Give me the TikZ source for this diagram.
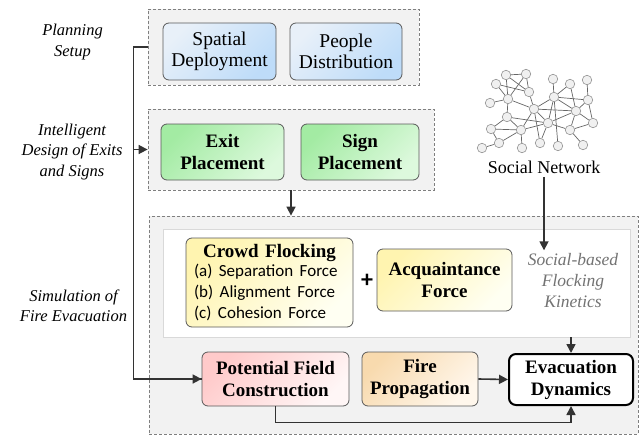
\documentclass[tikz,border=0pt]{standalone}
\usepackage{fontspec}
\setmainfont{Liberation Serif}
\newfontfamily\bodyfont{Carlito}
\usetikzlibrary{arrows.meta}
\definecolor{stagefill}{HTML}{F2F2F2}
\definecolor{stageline}{HTML}{7F7F7F}
\definecolor{blockline}{HTML}{595959}
\definecolor{flowline}{HTML}{333333}
\definecolor{blueA}{HTML}{E8F0F9}
\definecolor{blueB}{HTML}{BEDCF9}
\definecolor{greenA}{HTML}{A3EBA3}
\definecolor{greenB}{HTML}{DDF9DD}
\definecolor{yellowA}{HTML}{FFF4B0}
\definecolor{yellowB}{HTML}{FFFFF2}
\definecolor{pinkA}{HTML}{FFCACA}
\definecolor{pinkB}{HTML}{FFF6F6}
\definecolor{orangeA}{HTML}{F8DAAE}
\definecolor{orangeM}{HTML}{F4C27C}
\definecolor{orangeB}{HTML}{FFF7EC}

\begin{document}
\begin{tikzpicture}[
  x=1pt, y=-1pt,
  every node/.style={font=\fontsize{19.5}{21.5}\selectfont, align=center},
  >={Triangle[length=9pt,width=9pt]},
  stage/.style={draw=stageline, fill=stagefill, dash pattern=on 3pt off 2pt,
                line width=0.8pt},
  block/.style={draw=blockline, rounded corners=6pt, line width=0.8pt,
                inner sep=2pt},
  heading/.style={font=\bfseries\fontsize{19}{22}\selectfont},
  stagename/.style={font=\itshape\fontsize{16.5}{20.5}\selectfont},
  flow/.style={->, line width=1.6pt, draw=flowline},
  person/.style={circle, draw=gray!85, fill=gray!12, minimum size=9.5pt,
                 inner sep=0pt, line width=0.6pt},
  tie/.style={draw=black!60, line width=0.7pt}
]
\useasboundingbox (0,0) rectangle (642,436);

% Planning setup
\node[stage, minimum width=271pt, minimum height=76pt] (plan) at (283.5,47) {};
\node[block, left color=blueA, right color=blueB, shading angle=45,
      minimum width=113pt, minimum height=57pt] (spatial) at (219.5,51.5)
  {Spatial\\Deployment};
\node[block, left color=blueA, right color=blueB, shading angle=45,
      minimum width=112pt, minimum height=57pt] (people) at (346,51.5)
  {People\\Distribution};
\node[stagename] (plantxt) at (72.5,42) {Planning\\Setup};

% Exits and signs
\node[stage, minimum width=286pt, minimum height=81pt] (intel) at (291,149.5) {};
\node[block, heading, left color=greenA, right color=greenB, shading angle=45,
      minimum width=123pt, minimum height=56pt] (exit) at (222.5,152)
  {Exit\\Placement};
\node[block, heading, left color=greenA, right color=greenB, shading angle=45,
      minimum width=118pt, minimum height=56pt] (sign) at (360,152)
  {Sign\\Placement};
\node[stagename] (inteltxt) at (72,152) {Intelligent\\Design of Exits\\and Signs};

% Simulation
\node[stage, minimum width=489pt, minimum height=218pt] (sim) at (393.5,325) {};
\node[draw=black!15, fill=white, minimum width=467pt, minimum height=108pt,
      line width=0.8pt] (inner) at (396.5,283) {};
\node[block, left color=yellowA, right color=yellowB, shading angle=45,
      minimum width=167pt, minimum height=89pt, text width=151pt, align=left]
  (crowd) at (269.5,282.5)
  {\makebox[\linewidth]{\bfseries\fontsize{19}{22}\selectfont Crowd Flocking}\\[-1pt]
   \bodyfont\fontsize{17}{20.5}\selectfont
   (a) Separation Force\\(b) Alignment Force\\(c) Cohesion Force};
\node[font=\bodyfont\bfseries\fontsize{24}{24}\selectfont] (plus) at (367,281) {+};
\node[block, heading, left color=yellowA, right color=yellowB, shading angle=45,
      minimum width=135pt, minimum height=62pt] (acq) at (444.5,280)
  {Acquaintance\\Force};
\node[stagename, font=\itshape\fontsize{17.5}{21}\selectfont, text=black!55]
  (kinetics) at (573,281) {Social-based\\Flocking\\Kinetics};
\node[stagename] (simtxt) at (73.5,306) {Simulation of\\Fire Evacuation};

\node[block, heading, left color=pinkA, right color=pinkB, shading angle=45,
      minimum width=147pt, minimum height=54pt] (potential) at (275.5,379)
  {Potential Field\\Construction};
\node[block, heading, left color=orangeA, middle color=orangeM, right color=orangeB,
      shading angle=45, minimum width=116pt, minimum height=54pt]
  (fire) at (420,379) {Fire\\Propagation};
\node[heading, draw=black, fill=white, rounded corners=7pt, line width=2pt,
      minimum width=124pt, minimum height=51pt] (evac) at (571,379.5)
  {Evacuation\\Dynamics};

% Social network
\foreach \i/\px/\py in {1/506/75, 2/526/74, 3/496/84, 4/529/92, 5/508/99,
    6/490/103, 7/553/79, 8/570/84, 9/587/80, 10/554/97, 11/588/100,
    12/534/109, 13/576/111, 14/507/117, 15/548/123, 16/593/123, 17/491/129,
    18/521/130, 19/570/130, 20/499/143, 21/482/148, 22/522/148, 23/540/143,
    24/558/146, 25/583/145}
  \node[person] (n\i) at (\px,\py) {};
\foreach \a/\b in {1/2, 1/4, 1/5, 2/4, 2/5, 3/4, 3/5, 4/12, 5/6, 5/12, 5/14,
    7/10, 8/10, 8/13, 9/11, 10/11, 10/12, 10/13, 10/15, 10/24, 11/13, 11/16,
    13/16, 12/13, 12/15, 13/15, 13/19, 14/15, 14/17, 14/18, 15/18, 15/19,
    15/23, 16/19, 17/18, 17/20, 18/20, 18/22, 12/18, 19/25, 20/21, 12/23}
  \draw[tie] (n\a) -- (n\b);
\node[font=\fontsize{18}{21}\selectfont] (snet) at (544,167) {Social Network};

% Connectors
\draw[line width=1.6pt, draw=flowline] (plan.west) -- ++(-14,0) coordinate (bend)
  |- (potential.west);
\draw[flow] (potential.west -| bend) -- (potential.west);
\draw[flow] (bend |- intel.west) -- (intel.west);
\draw[flow] (intel.south) -- (intel.south |- sim.north);
\draw[flow] (snet.south) -- (snet.south |- kinetics.north);
\draw[flow] (evac.north |- inner.south) -- (evac.north);
\draw[flow] (fire.east) -- (evac.west);
\draw[flow] (potential.south) -- ++(0,16) -| (evac.south);

\end{tikzpicture}
\end{document}
